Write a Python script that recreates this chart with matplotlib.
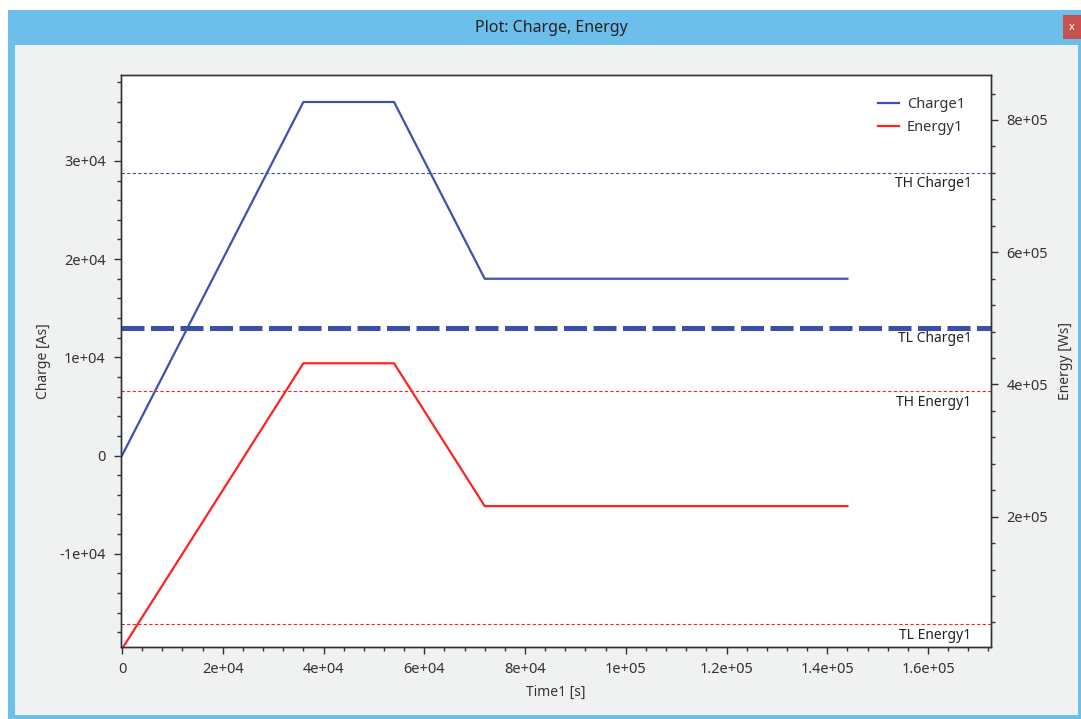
import matplotlib
matplotlib.use('Agg')
import matplotlib.pyplot as plt
from matplotlib.patches import Rectangle
from matplotlib.ticker import MultipleLocator, FuncFormatter

# data
time = [0, 36000, 54000, 72000, 144000]
charge = [0, 36000, 36000, 18000, 18000]
energy = [0, 432000, 432000, 216000, 216000]

charge_thresholds = {"TH Charge1": 28800, "TL Charge1": 13000}
energy_thresholds = {"TH Energy1": 390000, "TL Energy1": 37500}

blue = '#3f51b0'
red = '#ff2222'
txt = '#333333'

plt.rcParams['font.family'] = ['Noto Sans', 'DejaVu Sans']
plt.rcParams['font.size'] = 10


def sci(v, pos=None):
    if abs(v) < 1e-9:
        return '0'
    mant, ex = f"{v:.3e}".split('e')
    mant = mant.rstrip('0').rstrip('.')
    return f"{mant}e{ex}"


W, H = 1081, 719
fig = plt.figure(figsize=(W / 100, H / 100), dpi=100)
fig.patch.set_facecolor('white')

# window chrome
fig.patches.append(Rectangle((8 / W, 0), 1 - 8 / W, 1 - 10 / H, transform=fig.transFigure,
                             facecolor='#6bbfea', edgecolor='none', zorder=-3))
fig.patches.append(Rectangle((15 / W, 4 / H), (1078 - 15) / W, (715 - 45) / H, transform=fig.transFigure,
                             facecolor='#f0f1f1', edgecolor='none', zorder=-2))
fig.patches.append(Rectangle((1063 / W, 1 - 39 / H), 18 / W, 24 / H, transform=fig.transFigure,
                             facecolor='#c75050', edgecolor='none', zorder=-1))
fig.text(1072 / W, 1 - 28 / H, 'x', color='white', ha='center', va='center', fontsize=8, fontweight='bold')
fig.text(551 / W, 1 - 28 / H, 'Plot: Charge, Energy', ha='center', va='center', fontsize=11.5, color='#222222')

ax = fig.add_axes([121 / W, 1 - 647 / H, 870 / W, 572 / H])
ax2 = ax.twinx()

l1, = ax.plot(time, charge, color=blue, lw=1.6, label='Charge1')
l2, = ax2.plot(time, energy, color=red, lw=1.6, label='Energy1')

# threshold lines
ax.axhline(charge_thresholds["TH Charge1"], color=blue, lw=0.8, dashes=(3, 2))
ax.axhline(charge_thresholds["TL Charge1"], color='#3a50a8', lw=3.6, dashes=(4.6, 1.3))
ax2.axhline(energy_thresholds["TH Energy1"], color=red, lw=0.8, dashes=(3, 2))
ax2.axhline(energy_thresholds["TL Energy1"], color=red, lw=0.8, dashes=(3, 2))

for a, th in ((ax, charge_thresholds), (ax2, energy_thresholds)):
    for name, val in th.items():
        a.annotate(name, xy=(1, val), xycoords=('axes fraction', 'data'),
                   xytext=(-14, -8), textcoords='offset points',
                   ha='right', va='center', color='#222222', fontsize=10)

ax.set_xlim(-200, 172500)
ax.set_ylim(-19500, 38750)
ax2.set_ylim(2900, 868000)

ax.xaxis.set_major_locator(MultipleLocator(20000))
ax.xaxis.set_minor_locator(MultipleLocator(4000))
ax.yaxis.set_major_locator(MultipleLocator(10000))
ax.yaxis.set_minor_locator(MultipleLocator(2000))
ax2.yaxis.set_major_locator(MultipleLocator(200000))
ax2.yaxis.set_minor_locator(MultipleLocator(40000))
for f in (ax.xaxis, ax.yaxis, ax2.yaxis):
    f.set_major_formatter(FuncFormatter(sci))

for a in (ax, ax2):
    a.tick_params(which='major', length=5, width=1, colors='#333333', labelcolor=txt,
                  pad=6, labelsize=10.5)
    a.tick_params(which='minor', length=3, width=1, colors='#333333')
    for s in a.spines.values():
        s.set_color('#333333')
        s.set_linewidth(1)

ax.set_xlabel('Time1 [s]', color=txt, fontsize=10)
ax.set_ylabel('Charge [As]', color=txt, fontsize=10)
ax2.set_ylabel('Energy [Ws]', color=txt, fontsize=10)
ax.xaxis.set_label_coords(0.5, -0.0665)
ax.yaxis.set_label_coords(-0.080, 0.5)
ax2.yaxis.set_label_coords(1.077, 0.5)

leg = ax2.legend([l1, l2], ['Charge1', 'Energy1'], loc='upper right', frameon=False,
                 bbox_to_anchor=(0.985, 0.985), handlelength=1.45, handletextpad=0.5,
                 labelspacing=0.6, fontsize=10.5)
for t in leg.get_texts():
    t.set_color(txt)

fig.savefig('out.png', dpi=100)
